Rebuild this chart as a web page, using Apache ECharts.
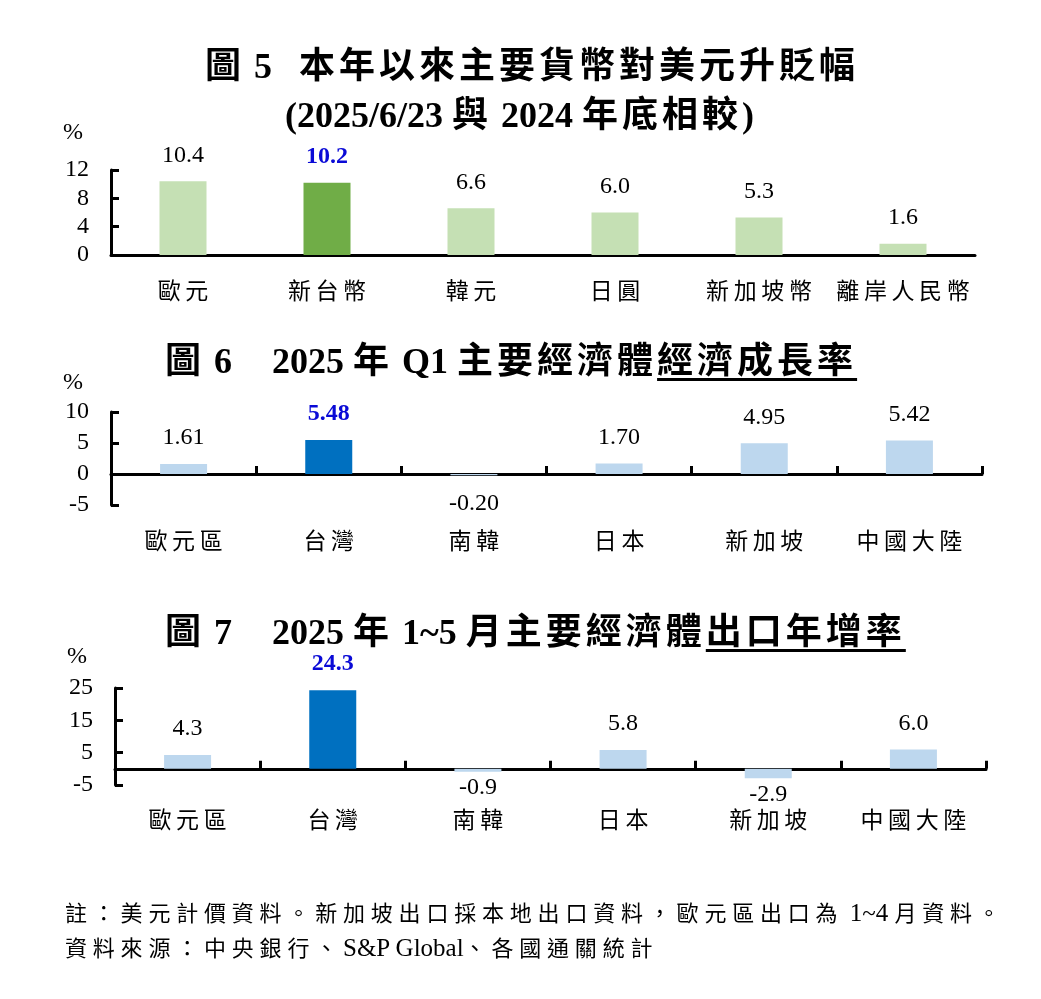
<!DOCTYPE html>
<html><head><meta charset="utf-8">
<script src="https://cdn.jsdelivr.net/npm/echarts@6/dist/echarts.min.js"></script>
<style>
html,body{margin:0;padding:0;background:#fff;}
#chart{position:absolute;left:0;top:0;width:1041px;height:999px;}
.t{position:absolute;white-space:nowrap;font-family:'Liberation Serif','Noto Sans CJK TC',serif;font-weight:bold;font-size:36px;line-height:36px;color:#000;z-index:5;}
.t .c{letter-spacing:4px;}
.u{text-decoration:underline;text-decoration-thickness:3px;text-underline-offset:5px;}
.n{position:absolute;white-space:nowrap;font-family:'Liberation Serif','Noto Sans CJK TC',serif;font-size:25px;line-height:26px;color:#000;z-index:5;}
.n .c{font-size:22px;letter-spacing:5.8px;}
</style></head><body>
<div id="chart"></div>
<div class="t" style="left:205px;top:48px">圖 5&nbsp;&nbsp;&nbsp;本年以來主要貨幣對美元升貶幅</div>
<div class="t" style="left:285px;top:97px">(2025/6/23 與 2024 年底相較)</div>
<div class="t" style="left:165px;top:343px">圖 6　2025 年 Q1 主要經濟體<span class="u">經濟成長率</span></div>
<div class="t" style="left:165px;top:614px">圖 7　2025 年 1~5 月主要經濟體<span class="u">出口年增率</span></div>
<div class="n" style="left:65px;top:900px">註：美元計價資料。新加坡出口採本地出口資料，歐元區出口為 1~4 月資料。</div>
<div class="n" style="left:65px;top:935px">資料來源：中央銀行、S&amp;P Global、各國通關統計</div>
<script>
// ---- data ----
const cats5 = ['歐元','新台幣','韓元','日圓','新加坡幣','離岸人民幣'];
const vals5 = [10.4, 10.2, 6.6, 6.0, 5.3, 1.6];
const cats6 = ['歐元區','台灣','南韓','日本','新加坡','中國大陸'];
const vals6 = [1.61, 5.48, -0.20, 1.70, 4.95, 5.42];
const cats7 = ['歐元區','台灣','南韓','日本','新加坡','中國大陸'];
const vals7 = [4.3, 24.3, -0.9, 5.8, -2.9, 6.0];
const yTicks5 = [0, 4, 8, 12];
const yTicks6 = [-5, 0, 5, 10];
const yTicks7 = [-5, 5, 15, 25];
const highlightIndex = 1;

// letter-spacing only on CJK runs
function wrapCJK(el){
  Array.from(el.childNodes).forEach(node => {
    if (node.nodeType === 3) {
      const parts = node.textContent.split(/([\u3000-\u9fff\uff00-\uffef]+)/);
      const frag = document.createDocumentFragment();
      parts.forEach(s => {
        if (!s) return;
        if (/[\u3000-\u9fff\uff00-\uffef]/.test(s)) {
          const sp = document.createElement('span'); sp.className = 'c'; sp.textContent = s; frag.appendChild(sp);
        } else frag.appendChild(document.createTextNode(s));
      });
      el.replaceChild(frag, node);
    } else if (node.nodeType === 1) wrapCJK(node);
  });
}
document.querySelectorAll('.t,.n').forEach(wrapCJK);

const SERIF = "'Liberation Serif','Noto Sans CJK TC',serif";
const CJK = "'Noto Sans CJK TC','Liberation Serif',sans-serif";

const panels = [
  {cats: cats5, vals: vals5, ticks: yTicks5, light:'#c5e0b4', dark:'#70ad47', dec:1,
   grid:{left:111, right:66, top:170, height:85}, xTicks:false, labelMargin:24, nameGap:25, negDist:4},
  {cats: cats6, vals: vals6, ticks: yTicks6, light:'#bdd7ee', dark:'#0070c0', dec:2,
   grid:{left:111, right:59, top:412, height:93}, xTicks:true, labelMargin:24, nameGap:17, negDist:16},
  {cats: cats7, vals: vals7, ticks: yTicks7, light:'#bdd7ee', dark:'#0070c0', dec:1,
   grid:{left:115, right:55, top:688, height:97}, xTicks:true, labelMargin:23, nameGap:19, negDist:4}
];

const option = {
  animation:false,
  grid: panels.map(p => Object.assign({containLabel:false}, p.grid)),
  xAxis: panels.map((p, i) => ({
    type:'category', gridIndex:i, data:p.cats,
    axisLine:{show:true, onZero:true, lineStyle:{color:'#000', width:3}},
    axisTick:{show:p.xTicks, inside:true, length:8, lineStyle:{color:'#000', width:3}},
    axisLabel:{interval:0, margin:p.labelMargin, fontSize:23, color:'#000', fontFamily:CJK,
      formatter: s => s.split('').join('\u2009')},
    splitLine:{show:false}
  })),
  yAxis: panels.map((p, i) => ({
    type:'value', gridIndex:i, min:p.ticks[0], max:p.ticks[p.ticks.length-1],
    interval:p.ticks[1]-p.ticks[0],
    splitLine:{show:false},
    axisLine:{show:true, lineStyle:{color:'#000', width:3}},
    axisTick:{show:true, inside:true, length:8, lineStyle:{color:'#000', width:3}},
    axisLabel:{fontSize:24, color:'#000', margin:22, fontFamily:SERIF},
    name:'%', nameLocation:'end', nameGap:p.nameGap,
    nameTextStyle:{fontSize:24, color:'#000', fontFamily:SERIF, align:'right', padding:[0,28,0,0]}
  })),
  series: panels.map((p, i) => ({
    type:'bar', xAxisIndex:i, yAxisIndex:i, barWidth:47,
    data: p.vals.map((v, k) => {
      const hl = k === highlightIndex;
      return {
        value: v,
        itemStyle:{color: hl ? p.dark : p.light},
        label:{show:true, position: v < 0 ? 'bottom' : 'top', distance: v < 0 ? p.negDist : 14,
          fontSize:24, fontFamily:SERIF, color: hl ? '#0a0ad6' : '#000',
          fontWeight: hl ? 'bold' : 'normal',
          formatter: prm => prm.value.toFixed(p.dec)}
      };
    })
  }))
};
const chart = echarts.init(document.getElementById('chart'));
chart.setOption(option);
</script>
</body></html>
